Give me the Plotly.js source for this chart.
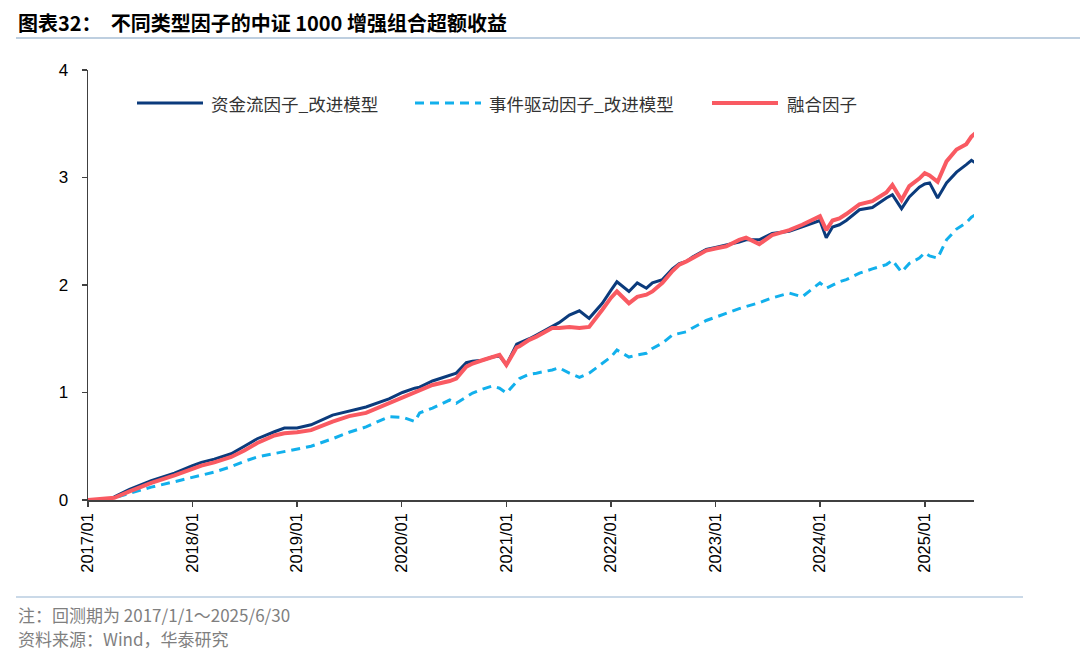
<!DOCTYPE html>
<html>
<head>
<meta charset="utf-8">
<script src="https://cdn.plot.ly/plotly-3.0.1.min.js"></script>
<style>
html,body{margin:0;padding:0;background:#fff;}
#chart{width:1080px;height:659px;}
</style>
</head>
<body>
<div id="chart"></div>
<script>
const dates = ['2017-01-01','2017-03-18','2017-04-03','2017-05-26','2017-08-10','2017-10-30','2018-01-01','2018-02-01','2018-03-18','2018-05-16','2018-07-01','2018-08-15','2018-10-14','2018-11-18','2019-01-01','2019-02-19','2019-05-05','2019-07-02','2019-08-30','2019-11-18','2020-01-01','2020-01-04','2020-02-16','2020-03-04','2020-04-18','2020-06-17','2020-07-10','2020-08-14','2020-09-05','2020-10-09','2020-11-13','2020-12-08','2021-01-01','2021-02-06','2021-02-16','2021-03-22','2021-04-16','2021-06-10','2021-07-04','2021-08-09','2021-09-13','2021-10-17','2021-12-02','2022-01-01','2022-01-22','2022-03-05','2022-04-03','2022-05-05','2022-05-26','2022-06-30','2022-08-04','2022-08-28','2022-09-22','2022-10-13','2022-11-30','2023-01-01','2023-02-08','2023-03-25','2023-04-18','2023-06-03','2023-07-18','2023-09-16','2023-10-31','2024-01-01','2024-01-23','2024-02-14','2024-03-09','2024-04-02','2024-05-18','2024-07-02','2024-08-20','2024-09-10','2024-10-12','2024-11-08','2024-12-13','2025-01-01','2025-01-18','2025-02-15','2025-03-18','2025-04-22','2025-05-26','2025-06-13','2025-06-30'];

const fundFlow = [0,0.01,0.03,0.10,0.18,0.25,0.32,0.35,0.38,0.43,0.50,0.57,0.635,0.67,0.67,0.70,0.79,0.83,0.865,0.94,0.99,1.00,1.04,1.05,1.107,1.16,1.18,1.277,1.29,1.30,1.33,1.34,1.256,1.45,1.46,1.50,1.535,1.61,1.65,1.72,1.76,1.69,1.83,1.95,2.03,1.94,2.02,1.97,2.02,2.05,2.15,2.20,2.22,2.26,2.33,2.35,2.37,2.40,2.42,2.42,2.48,2.50,2.54,2.60,2.44,2.54,2.56,2.60,2.70,2.72,2.81,2.84,2.71,2.82,2.91,2.94,2.95,2.81,2.95,3.05,3.12,3.16,3.13];

const eventDriven = [0,0.01,0.02,0.06,0.12,0.17,0.21,0.23,0.26,0.31,0.36,0.40,0.43,0.45,0.47,0.50,0.57,0.63,0.68,0.775,0.77,0.77,0.73,0.81,0.855,0.93,0.90,0.96,0.995,1.03,1.06,1.04,0.995,1.10,1.13,1.17,1.18,1.21,1.23,1.18,1.14,1.18,1.27,1.33,1.395,1.33,1.35,1.365,1.41,1.46,1.535,1.55,1.565,1.60,1.67,1.70,1.74,1.78,1.80,1.835,1.88,1.925,1.89,2.02,1.97,2.00,2.03,2.05,2.11,2.15,2.19,2.23,2.12,2.20,2.25,2.30,2.27,2.25,2.42,2.52,2.58,2.63,2.66];

const fusion = [0,0.01,0.02,0.08,0.16,0.23,0.29,0.32,0.35,0.40,0.46,0.53,0.60,0.62,0.63,0.65,0.73,0.78,0.81,0.90,0.95,0.96,1.01,1.02,1.07,1.107,1.13,1.24,1.27,1.30,1.33,1.35,1.256,1.42,1.43,1.49,1.52,1.60,1.60,1.61,1.60,1.61,1.77,1.88,1.94,1.83,1.89,1.91,1.94,2.02,2.13,2.19,2.22,2.25,2.32,2.34,2.36,2.42,2.44,2.38,2.465,2.51,2.56,2.64,2.51,2.60,2.62,2.66,2.75,2.78,2.86,2.93,2.79,2.92,2.99,3.04,3.02,2.96,3.15,3.26,3.31,3.38,3.42];

const seriesNames = ['资金流因子_改进模型','事件驱动因子_改进模型','融合因子'];
const seriesColors = ['#0B3B7C','#12B0EC','#F95A62'];
const titleText = '图表32：  不同类型因子的中证 1000 增强组合超额收益';
const noteText = '注：回测期为 2017/1/1～2025/6/30';
const sourceText = '资料来源：Wind，华泰研究';

const L = 88, R = 974, T = 70, B = 500;
const px = x => (x - L) / (R - L);
const py = y => (B - y) / (B - T);

const traces = [
  {x: dates, y: fundFlow, name: seriesNames[0], type: 'scatter', mode: 'lines',
   line: {color: seriesColors[0], width: 3}},
  {x: dates, y: eventDriven, name: seriesNames[1], type: 'scatter', mode: 'lines',
   line: {color: seriesColors[1], width: 3, dash: '9px,6px'}},
  {x: dates, y: fusion, name: seriesNames[2], type: 'scatter', mode: 'lines',
   line: {color: seriesColors[2], width: 4}}
];

const cjk = '"Noto Sans CJK SC", "Liberation Sans", sans-serif';
const legendY = py(103);
const legendItems = [
  {x0: 137, x1: 203, tx: 209},
  {x0: 415, x1: 481, tx: 487},
  {x0: 712, x1: 778, tx: 785}
];
const shapes = [
  {type: 'line', xref: 'paper', yref: 'paper', x0: px(16), x1: px(1080), y0: py(38), y1: py(38),
   line: {color: '#A9BFD6', width: 1.5}},
  {type: 'line', xref: 'paper', yref: 'paper', x0: px(16), x1: px(1023), y0: py(597), y1: py(597),
   line: {color: '#B8CCE0', width: 1.5}}
];
const annotations = [
  {xref: 'paper', yref: 'paper', x: px(16), y: py(614), xanchor: 'left', yanchor: 'middle', showarrow: false,
   text: noteText, font: {family: cjk, size: 17, color: '#7F7F7F'}},
  {xref: 'paper', yref: 'paper', x: px(16), y: py(638), xanchor: 'left', yanchor: 'middle', showarrow: false,
   text: sourceText, font: {family: cjk, size: 17, color: '#7F7F7F'}}
];
legendItems.forEach((it, i) => {
  shapes.push({type: 'line', xref: 'paper', yref: 'paper', x0: px(it.x0), x1: px(it.x1), y0: legendY, y1: legendY,
    line: {color: seriesColors[i], width: i === 2 ? 4 : 3, dash: i === 1 ? '9px,6px' : 'solid'}});
  annotations.push({xref: 'paper', yref: 'paper', x: px(it.tx), y: legendY, xanchor: 'left', yanchor: 'middle',
    showarrow: false, text: seriesNames[i], font: {family: cjk, size: 17.5, color: '#333333'}});
});

const layout = {
  width: 1080, height: 659,
  margin: {l: L, r: 1080 - R, t: T, b: 659 - B},
  paper_bgcolor: '#ffffff', plot_bgcolor: '#ffffff',
  showlegend: false,
  title: {text: '<b>' + titleText + '</b>', x: 18 / 1080, xanchor: 'left', xref: 'container',
          y: 1 - 24 / 659, yanchor: 'middle', yref: 'container',
          font: {family: cjk, size: 20, color: '#000000'}},
  xaxis: {
    type: 'date', range: ['2017-01-01', '2025-06-22'],
    tickformat: '%Y/%m', dtick: 'M12', tick0: '2017-01-01', tickangle: -90,
    ticks: 'outside', ticklen: 5, tickcolor: '#404040', tickwidth: 1.5,
    showline: true, linecolor: '#404040', linewidth: 1.5,
    showgrid: false, zeroline: false,
    tickfont: {family: '"Liberation Sans", Arial, sans-serif', size: 16.5, color: '#000'}
  },
  yaxis: {
    range: [0, 4], dtick: 1, tick0: 0,
    ticks: 'outside', ticklen: 5, tickcolor: '#404040', tickwidth: 1.5,
    showline: true, linecolor: '#404040', linewidth: 1.5,
    showgrid: false, zeroline: false, ticklabelstandoff: 10,
    tickfont: {family: '"Liberation Sans", Arial, sans-serif', size: 17, color: '#000'}
  },
  shapes: shapes,
  annotations: annotations
};

Plotly.newPlot('chart', traces, layout, {displayModeBar: false, staticPlot: true});
</script>
</body>
</html>
